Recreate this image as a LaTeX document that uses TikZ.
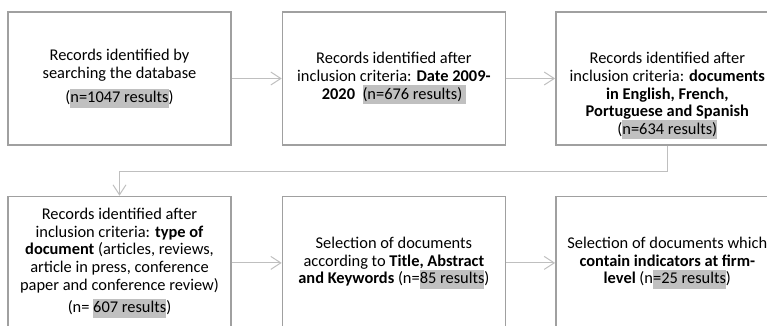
\documentclass[tikz,border=0pt]{standalone}
\usepackage{fontspec}
\setmainfont{Carlito}
\usetikzlibrary{positioning, arrows.meta}
\definecolor{boxgray}{HTML}{A0A0A0}
\definecolor{linegray}{HTML}{BFBFBF}
\definecolor{hlgray}{HTML}{C0C0C0}
\newcommand{\hlt}[1]{{\setlength{\fboxsep}{0pt}\colorbox{hlgray}{\rule[-5pt]{0pt}{19pt}#1}}}

\begin{document}
\begin{tikzpicture}[
  x=1pt, y=-1pt,
  every node/.style={font=\fontsize{16.4}{17.7}\selectfont},
  stage/.style={rectangle, draw=boxgray, line width=1.4pt, minimum width=223pt,
    minimum height=133pt, align=center, inner sep=0},
  link/.style={draw=linegray, line width=1pt, -{Straight Barb[length=10pt, width=13pt]}}
]
\clip (0,0) rectangle (767,326);

% first row
\node [stage] (b1) at (119.5,78.5) {Records identified by\\searching the database\\[7pt]
    (\hlt{n=1047 results})};
\node [stage, right=50pt of b1] (b2) {Records identified after\\inclusion criteria: \textbf{Date 2009-}\\
    \textbf{2020}\ \ \hlt{(n=676 results)\ }};
\node [stage, right=49pt of b2] (b3) {\rule{0pt}{46pt}Records identified after\\
    inclusion criteria: \textbf{documents}\\\textbf{in English, French,}\\\textbf{Portuguese and Spanish}\\
    (\hlt{n=634 results)}};

% second row
\node [stage, below=50pt of b1] (b4) {Records identified after\\inclusion criteria: \textbf{type of}\\
    \textbf{document} (articles, reviews,\\article in press, conference\\paper and conference review)\\[5pt]
    (n= \hlt{607 results})};
\node [stage, right=50pt of b4] (b5) {Selection of documents\\according to \textbf{Title, Abstract}\\
    \textbf{and Keywords} (n=\hlt{85 results})};
\node [stage, right=49pt of b5] (b6) {Selection of documents which\\\textbf{contain indicators at firm-}\\
    \textbf{level} (n\hlt{=25 results})};

\draw [link] (b1) -- (b2);
\draw [link] (b2) -- (b3);
\draw [link] (b3.south) -- ++(0,25.5) -| (b4.north);
\draw [link] (b4) -- (b5);
\draw [link] (b5) -- (b6);

\end{tikzpicture}
\end{document}
